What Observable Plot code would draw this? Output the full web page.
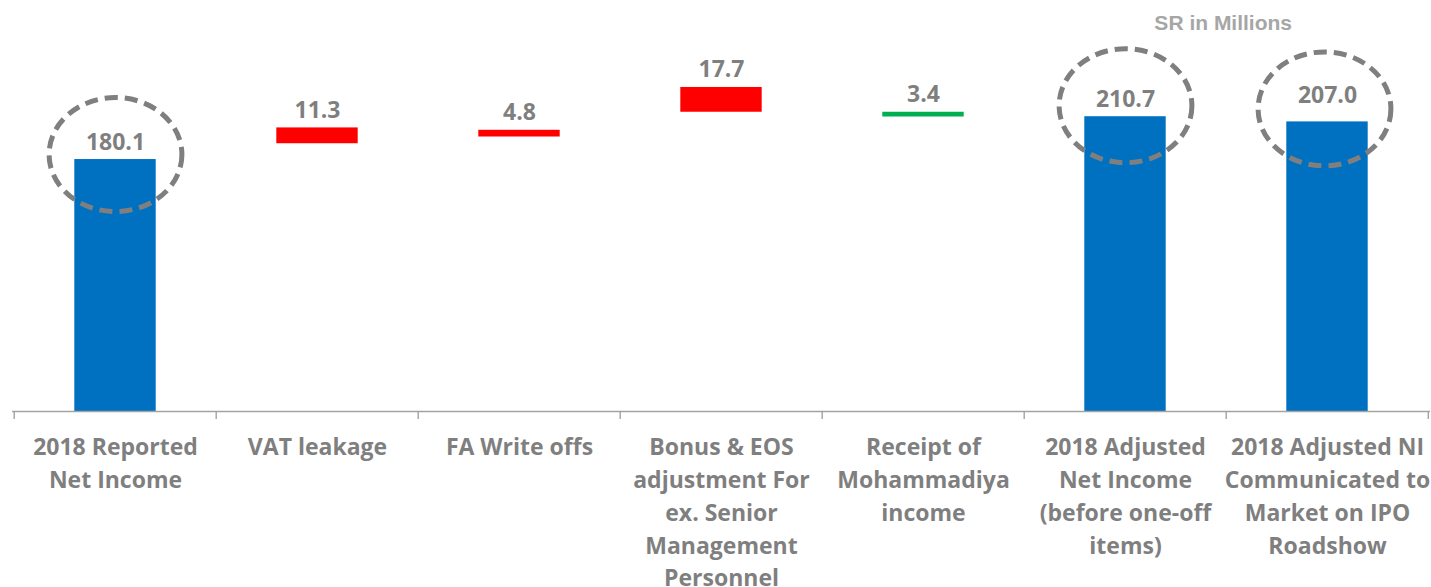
<!DOCTYPE html>
<html>
<head>
<meta charset="utf-8">
<script src="https://cdn.jsdelivr.net/npm/d3@7"></script>
<script src="https://cdn.jsdelivr.net/npm/@observablehq/plot@0.6"></script>
<style>
  html, body { margin: 0; padding: 0; background: #ffffff; }
  #chart svg { display: block; }
</style>
</head>
<body>
<div id="chart"></div>
<script>
// ---- data ----
const categories = [
  "2018 Reported\nNet Income",
  "VAT leakage",
  "FA Write offs",
  "Bonus & EOS\nadjustment For\nex. Senior\nManagement\nPersonnel",
  "Receipt of\nMohammadiya\nincome",
  "2018 Adjusted\nNet Income\n(before one-off\nitems)",
  "2018 Adjusted NI\nCommunicated to\nMarket on IPO\nRoadshow"
];
const barLow  = [0, 191.4, 196.2, 213.9, 210.5, 0, 0];
const barHigh = [180.1, 202.7, 201.0, 231.6, 213.9, 210.7, 207.0];
const valueLabels = [180.1, 11.3, 4.8, 17.7, 3.4, 210.7, 207.0];
const barKinds = ["total", "addBack", "addBack", "addBack", "deduct", "total", "total"];
const highlighted = [true, false, false, false, false, true, true];
const unitNote = "SR in Millions";

// ---- table for the library ----
const rows = categories.map((cat, i) => ({
  cat, low: barLow[i], high: barHigh[i], value: valueLabels[i],
  kind: barKinds[i], ring: highlighted[i], idx: i
}));

// ---- styling ----
const W = 1431, H = 587;
const mL = 12, mR = 1, mT = 5, mB = 176;
const step = (W - mL - mR) / categories.length;
const textGray = "#7f7f7f";
const axisGray = "#a3a3a3";
const font = "'Open Sans', 'DejaVu Sans', sans-serif";

// dashed ellipse symbol (drawn by the dot mark)
const ellipse = {
  draw(ctx, size) {
    const r = Math.sqrt(size / Math.PI);
    const rx = r * 1.165, ry = r, k = 0.5523;
    ctx.moveTo(rx, 0);
    ctx.bezierCurveTo(rx, ry * k, rx * k, ry, 0, ry);
    ctx.bezierCurveTo(-rx * k, ry, -rx, ry * k, -rx, 0);
    ctx.bezierCurveTo(-rx, -ry * k, -rx * k, -ry, 0, -ry);
    ctx.bezierCurveTo(rx * k, -ry, rx, -ry * k, rx, 0);
    ctx.closePath();
  }
};
const ringStyle = {
  r: 57, symbol: ellipse, fill: "none", stroke: "#7f7f7f",
  strokeWidth: 5, strokeDasharray: "13,7"
};

const last = rows.length - 1;
const labelStyle = {
  fontSize: 23, fontWeight: "bold", fill: textGray, fontFamily: font
};

const chart = Plot.plot({
  width: W,
  height: H,
  marginLeft: mL,
  marginRight: mR,
  marginTop: mT,
  marginBottom: mB,
  style: { fontFamily: font, background: "#ffffff", color: textGray },
  x: { domain: categories, padding: 0, axis: null },
  y: { domain: [0, 290.2], range: [H - mB, mT], axis: null },
  color: {
    domain: ["total", "addBack", "deduct"],
    range: ["#0070C0", "#FF0000", "#00B050"]
  },
  marks: [
    Plot.barY(rows, {
      x: "cat", y1: "low", y2: "high", fill: "kind",
      insetLeft: 60.3, insetRight: 60.3
    }),
    // baseline
    Plot.ruleY([0], { stroke: axisGray, strokeWidth: 1.4 }),
    // boundary ticks between categories
    Plot.ruleX(rows, {
      x: "cat", y1: 0, y2: 0, dx: -step / 2, insetBottom: -8,
      stroke: axisGray, strokeWidth: 1.4
    }),
    Plot.ruleX([rows[last]], {
      x: "cat", y1: 0, y2: 0, dx: step / 2 - 0.5, insetBottom: -8,
      stroke: axisGray, strokeWidth: 1.4
    }),
    // category labels
    Plot.text(rows, {
      x: "cat", y: 0, text: "cat", lineAnchor: "top", dy: 20,
      lineHeight: 1.43, ...labelStyle
    }),
    // value labels
    Plot.text(rows.filter(d => d.idx !== last), {
      x: "cat", y: "high", text: d => d.value.toFixed(1),
      lineAnchor: "bottom", dy: -10, ...labelStyle
    }),
    Plot.text(rows.filter(d => d.idx === last), {
      x: "cat", y: "high", text: d => d.value.toFixed(1),
      lineAnchor: "bottom", dy: -19, ...labelStyle
    }),
    // dashed highlight rings
    Plot.dot(rows.filter(d => d.ring && d.idx === 0), {
      x: "cat", y: "high", dy: -5, ...ringStyle
    }),
    Plot.dot(rows.filter(d => d.ring && d.idx !== 0 && d.idx !== last), {
      x: "cat", y: "high", dy: -11, ...ringStyle
    }),
    Plot.dot(rows.filter(d => d.ring && d.idx === last), {
      x: "cat", y: "high", dy: -13, dx: -3, ...ringStyle
    }),
    // unit note
    Plot.text([unitNote], {
      text: d => d, frameAnchor: "top-right", textAnchor: "middle",
      lineAnchor: "bottom", dx: -207.3, dy: 24.3,
      fontSize: 21, fontWeight: "bold", fill: "#a6a6a6",
      fontFamily: "'Liberation Sans', Arial, sans-serif"
    })
  ]
});

document.getElementById("chart").appendChild(chart);
</script>
</body>
</html>
